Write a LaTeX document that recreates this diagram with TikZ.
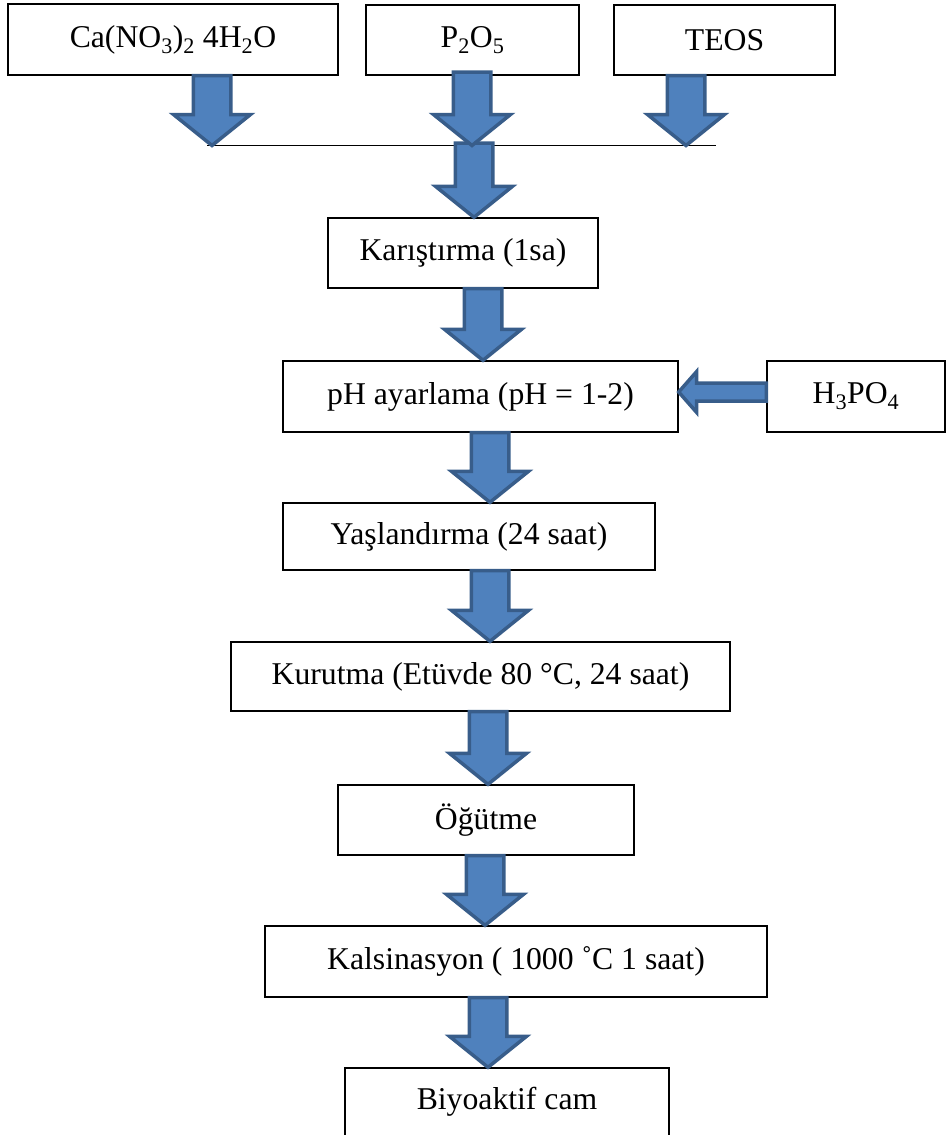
\documentclass[tikz,border=0pt]{standalone}
\usepackage{fontspec}
\setmainfont{Liberation Serif}
\usetikzlibrary{calc}
\definecolor{arrfill}{HTML}{4F81BD}
\definecolor{arrline}{HTML}{385D8A}
\newcommand\fs{\fontsize{31.7}{38}\selectfont}
\newcommand\blockarr[5]{%
  \coordinate (bh) at ($(#2)!#5!(#1)$);
  \path[barrow] ($(#1)!#3!90:(#2)$) -- ($(bh)!#3!90:(#2)$) -- ($(bh)!#4!90:(#2)$) -- (#2)
    -- ($(bh)!#4!-90:(#2)$) -- ($(bh)!#3!-90:(#2)$) -- ($(#1)!#3!-90:(#2)$) -- cycle;
}
\tikzset{
  box/.style={draw, line width=1.4pt, inner sep=0pt, align=center, font=\fs},
  barrow/.style={fill=arrfill, draw=arrline, line width=3.5pt, line join=miter},
  joinline/.style={draw, line width=1.2pt}
}
\begin{document}
\begin{tikzpicture}[x=1pt,y=-1pt]
\useasboundingbox (0,0) rectangle (946,1135);
% boxes
\node[box, minimum width=330pt, minimum height=71pt] (ca) at (173,39.5) {Ca(NO\textsubscript{3})\textsubscript{2} 4H\textsubscript{2}O};
\node[box, minimum width=213pt, minimum height=70pt] (p2o5) at (472.5,40) {P\textsubscript{2}O\textsubscript{5}};
\node[box, minimum width=221pt, minimum height=70pt] (teos) at (724.5,40) {TEOS};
\node[box, minimum width=270pt, minimum height=70pt] (kar) at (463,253) {Karıştırma (1sa)};
\node[box, minimum width=395pt, minimum height=71pt] (ph) at (480.5,396.5) {pH ayarlama (pH = 1-2)};
\node[box, minimum width=178pt, minimum height=71pt] (h3po4) at (856,396.5) {H\textsubscript{3}PO\textsubscript{4}};
\node[box, minimum width=372pt, minimum height=67pt] (yas) at (469,536.5) {Yaşlandırma (24 saat)};
\node[box, minimum width=499pt, minimum height=69pt] (kur) at (480.5,676.5) {Kurutma (Etüvde 80 °C, 24 saat)};
\node[box, minimum width=296pt, minimum height=70pt] (ogut) at (486,820) {Öğütme};
\node[box, minimum width=502pt, minimum height=71pt] (kal) at (516,961.5) {Kalsinasyon ( 1000 ˚C 1 saat)};
\node[box, minimum width=324pt, minimum height=68pt] (bio) at (507,1102) {Biyoaktif cam};
% joining line
\coordinate (jl) at (207,145.5);
\coordinate (jr) at (716,145.5);
\draw[joinline] (jl) -- (jr);
% arrow end points
\coordinate (a1s) at (212,0 |- ca.south);
\coordinate (a1t) at (212,0 |- jl);
\coordinate (a2s) at (472,72);
\coordinate (a2t) at (472,0 |- jl);
\coordinate (a3s) at (686,0 |- teos.south);
\coordinate (a3t) at (686,0 |- jl);
\coordinate (a4s) at (474,143);
\coordinate (a4t) at (474,0 |- kar.north);
\coordinate (a5s) at (483,0 |- kar.south);
\coordinate (a5t) at (483,0 |- ph.north);
\coordinate (a6s) at (490,0 |- ph.south);
\coordinate (a6t) at (490,0 |- yas.north);
\coordinate (a7s) at (490,0 |- yas.south);
\coordinate (a7t) at (490,0 |- kur.north);
\coordinate (a8s) at (488,0 |- kur.south);
\coordinate (a8t) at (488,0 |- ogut.north);
\coordinate (a9s) at (485,0 |- ogut.south);
\coordinate (a9t) at (485,0 |- kal.north);
\coordinate (a10s) at (488,0 |- kal.south);
\coordinate (a10t) at (488,0 |- bio.north);
\coordinate (ahs) at (h3po4.west |- 0,392);
\coordinate (aht) at (ph.east |- 0,392);
% arrows
\blockarr{a1s}{a1t}{18.75pt}{38.5pt}{31pt}
\blockarr{a3s}{a3t}{18.75pt}{38.5pt}{31pt}
\blockarr{a4s}{a4t}{18.75pt}{38.5pt}{31pt}
\blockarr{a2s}{a2t}{18.75pt}{38.5pt}{31pt}
\blockarr{a5s}{a5t}{18.75pt}{38.5pt}{31pt}
\blockarr{a6s}{a6t}{18.75pt}{38.5pt}{31pt}
\blockarr{a7s}{a7t}{18.75pt}{38.5pt}{31pt}
\blockarr{a8s}{a8t}{18.75pt}{38.5pt}{31pt}
\blockarr{a9s}{a9t}{18.75pt}{38.5pt}{31pt}
\blockarr{a10s}{a10t}{18.75pt}{38.5pt}{31pt}
\blockarr{ahs}{aht}{9pt}{20.5pt}{18pt}
\end{tikzpicture}
\end{document}
